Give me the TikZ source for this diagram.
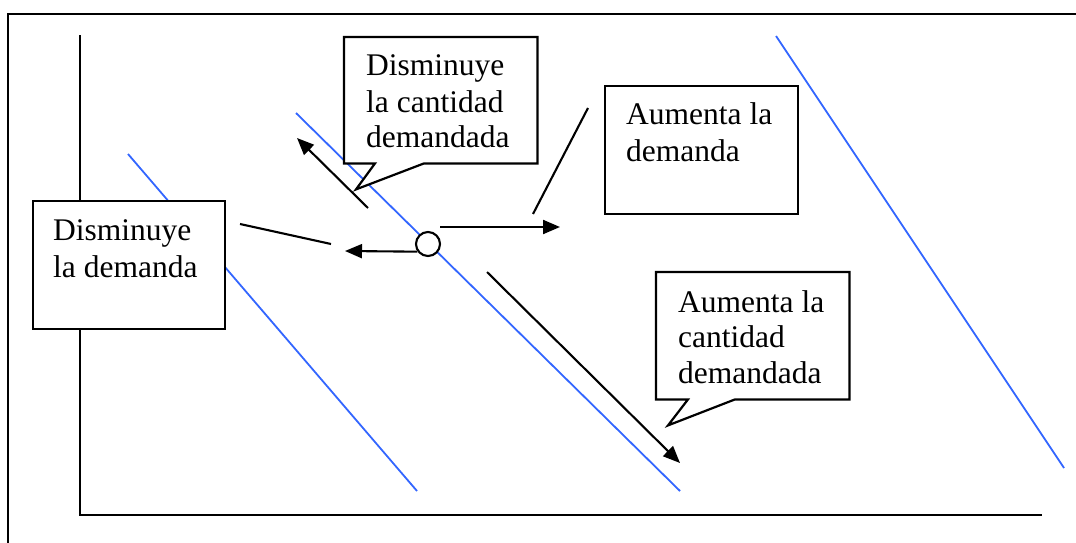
\documentclass[tikz,border=0pt]{standalone}
\usepackage{fontspec}
\setmainfont{Liberation Serif}
\usetikzlibrary{arrows.meta,calc}
\definecolor{curveblue}{RGB}{51,102,255}
\begin{document}
\begin{tikzpicture}[x=1pt,y=-1pt,
  axisline/.style={line width=2.2pt,line cap=rect},
  demand/.style={curveblue,line width=1.8pt},
  conn/.style={line width=2.1pt},
  arr/.style={conn,-{Triangle[length=17pt,width=14pt]}},
  boxnode/.style={rectangle,inner sep=0pt,anchor=north west},
  boxline/.style={draw,fill=white,line width=2.2pt},
  txt/.style={font=\fontsize{31.5}{36}\selectfont,anchor=base west,inner sep=0pt},
]
\useasboundingbox (0,0) rectangle (1076,543);
% outer frame
\draw[line width=2.2pt] (8,543) -- (8,14) -- (1076,14);
% axes
\draw[axisline] (80,36) -- (80,515) -- (1041,515);
% demand curves
\draw[demand] (128,154) -- (417,491);
\draw[demand] (296,113) -- (680,491);
\draw[demand] (776,36) -- (1064,468);
% point
\node[circle,draw,fill=white,line width=2.1pt,minimum size=24pt,inner sep=0pt] (c) at (428,244) {};
% coordinates
\coordinate (la) at (345,251);
\coordinate (rs) at (440,227);
\coordinate (re) at (560,227);
\coordinate (us) at (368,208);
\coordinate (ue) at (297,138);
\coordinate (ds) at (487,272);
\coordinate (de) at (680,463);
\coordinate (l1s) at (240,224);
\coordinate (l1e) at (331,244);
\coordinate (l2s) at (533,214);
\coordinate (l2e) at (588,108);
% arrows
\draw[arr] (c.216) -- (la);
\draw[arr] (rs) -- (re);
\draw[arr] (us) -- (ue);
\draw[arr] (ds) -- (de);
\draw[conn] (l1s) -- (l1e);
\draw[conn] (l2s) -- (l2e);
% box 1: callout "Disminuye la cantidad demandada"
\node[boxnode,minimum width=193pt,minimum height=126pt] (b1) at (344,37) {};
\draw[boxline] (b1.north west) -- (b1.north east) -- (b1.south east)
  -- ($(b1.south west)+(80,0)$) -- ($(b1.south west)+(12,26)$)
  -- ($(b1.south west)+(31,0)$) -- (b1.south west) -- cycle;
\node[txt] (b1a) at ($(b1.north west)+(22,39)$) {Disminuye};
\node[txt] (b1b) at ($(b1.north west)+(22,75)$) {la cantidad};
\node[txt] (b1c) at ($(b1.north west)+(22,110)$) {demandada};
% box 2: "Disminuye la demanda"
\node[boxnode,boxline,minimum width=192pt,minimum height=128pt] (b2) at (32,200) {};
\node[txt] (b2a) at ($(b2.north west)+(21,40)$) {Disminuye};
\node[txt] (b2b) at ($(b2.north west)+(21,77)$) {la demanda};
% box 3: "Aumenta la demanda"
\node[boxnode,boxline,minimum width=193pt,minimum height=128pt] (b3) at (604,85) {};
\node[txt] (b3a) at ($(b3.north west)+(22,39)$) {Aumenta la};
\node[txt] (b3b) at ($(b3.north west)+(22,76)$) {demanda};
% box 4: callout "Aumenta la cantidad demandada"
\node[boxnode,minimum width=193pt,minimum height=127pt] (b4) at (656,272) {};
\draw[boxline] (b4.north west) -- (b4.north east) -- (b4.south east)
  -- ($(b4.south west)+(79,0)$) -- ($(b4.south west)+(12,26)$)
  -- ($(b4.south west)+(32,0)$) -- (b4.south west) -- cycle;
\node[txt] (b4a) at ($(b4.north west)+(22,40)$) {Aumenta la};
\node[txt] (b4b) at ($(b4.north west)+(22,75)$) {cantidad};
\node[txt] (b4c) at ($(b4.north west)+(22,111)$) {demandada};
\end{tikzpicture}
\end{document}
